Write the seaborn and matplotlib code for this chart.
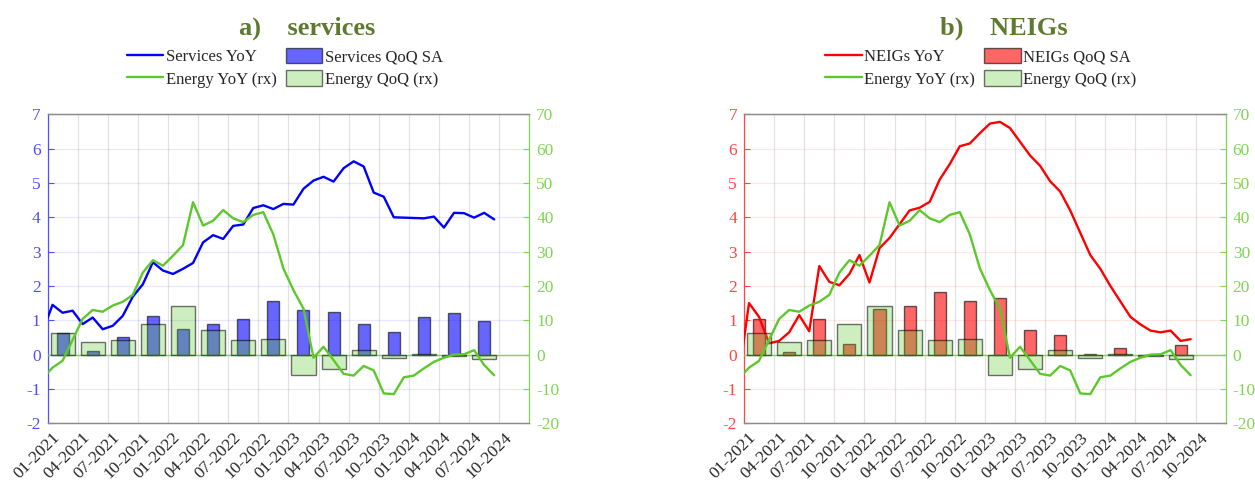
import numpy as np
import pandas as pd
import matplotlib
matplotlib.use("Agg")
import matplotlib.pyplot as plt
import seaborn as sns
from matplotlib.lines import Line2D
from matplotlib.patches import Patch
from matplotlib.transforms import ScaledTranslation

# ---------------- data ----------------
months = pd.period_range("2020-12", "2024-09", freq="M").strftime("%Y-%m").tolist()

services_yoy = [0.67,
                1.45, 1.22, 1.28, 0.89, 1.08, 0.74, 0.84, 1.13, 1.69, 2.05, 2.69, 2.45,
                2.35, 2.50, 2.67, 3.27, 3.48, 3.37, 3.75, 3.79, 4.27, 4.35, 4.24, 4.39,
                4.37, 4.83, 5.07, 5.18, 5.04, 5.43, 5.63, 5.48, 4.72, 4.60, 4.00, 3.99,
                3.98, 3.97, 4.02, 3.70, 4.13, 4.12, 3.99, 4.13, 3.94]

neigs_yoy = [-0.60,
             1.50, 1.10, 0.33, 0.40, 0.65, 1.15, 0.68, 2.58, 2.12, 2.02, 2.35, 2.90,
             2.10, 3.10, 3.40, 3.80, 4.20, 4.28, 4.45, 5.10, 5.55, 6.07, 6.15, 6.45,
             6.73, 6.78, 6.60, 6.20, 5.80, 5.50, 5.05, 4.75, 4.20, 3.55, 2.90, 2.50,
             2.00, 1.55, 1.10, 0.88, 0.70, 0.65, 0.70, 0.40, 0.45]

energy_yoy = [-6.9,
              -3.8, -1.8, 4.3, 10.4, 13.0, 12.5, 14.3, 15.4, 17.4, 23.9, 27.5, 25.9,
              28.8, 31.9, 44.4, 37.6, 39.0, 42.1, 39.7, 38.6, 40.7, 41.5, 35.0, 25.1,
              18.8, 13.4, -0.9, 2.3, -1.6, -5.6, -6.1, -3.3, -4.6, -11.3, -11.5, -6.6,
              -6.1, -4.0, -2.1, -0.9, 0.0, 0.1, 1.3, -3.0, -6.0]

quarters = ["2021Q1", "2021Q2", "2021Q3", "2021Q4",
            "2022Q1", "2022Q2", "2022Q3", "2022Q4",
            "2023Q1", "2023Q2", "2023Q3", "2023Q4",
            "2024Q1", "2024Q2", "2024Q3"]

services_qoq = [0.62, 0.11, 0.50, 1.13, 0.76, 0.89, 1.03, 1.55, 1.29, 1.25, 0.90, 0.66, 1.10, 1.21, 0.97]
neigs_qoq = [1.05, 0.07, 1.03, 0.31, 1.32, 1.41, 1.83, 1.55, 1.64, 0.72, 0.56, 0.01, 0.19, -0.02, 0.28]
energy_qoq = [6.4, 3.6, 4.2, 9.0, 14.3, 7.1, 4.2, 4.5, -6.0, -4.3, 1.3, -1.0, 0.2, -0.5, -1.4]

xtick_labels = ["01-2021", "04-2021", "07-2021", "10-2021",
                "01-2022", "04-2022", "07-2022", "10-2022",
                "01-2023", "04-2023", "07-2023", "10-2023",
                "01-2024", "04-2024", "07-2024", "10-2024"]
left_ticks = [-2, -1, 0, 1, 2, 3, 4, 5, 6, 7]
right_ticks = [-20, -10, 0, 10, 20, 30, 40, 50, 60, 70]

# ------------- positions (months since Jan 2021) -------------
pm = pd.PeriodIndex(months, freq="M")
xm = np.asarray((pm.year - 2021) * 12 + (pm.month - 1), dtype=float) + 0.5
pq = pd.PeriodIndex(quarters, freq="Q")
xq = np.asarray((pq.year - 2021) * 12 + (pq.quarter - 1) * 3, dtype=float) + 1.5
xt = np.arange(len(xtick_labels)) * 3.0

df_m = pd.DataFrame({"x": xm, "services": services_yoy, "neigs": neigs_yoy, "energy": energy_yoy})
df_q = pd.DataFrame({"x": xq, "services": services_qoq, "neigs": neigs_qoq, "energy": energy_qoq})

# ---------------- style ----------------
sns.set_style("white")
plt.rcParams["font.family"] = ["Liberation Serif", "DejaVu Serif"]
plt.rcParams["axes.unicode_minus"] = False

GREEN = "#5CC82A"
GREEN_AX = "#7ED653"
TXT = "#262626"
FRAME = "#8C8C8C"

W, H = 1255, 484
fig = plt.figure(figsize=(W / 100, H / 100), dpi=100)


def panel(x0px, key, line_col, bar_rgb, axis_col, grid_rgb, title, legend_labels, title_cx, leg_x):
    ax_w = 481.8
    rect = [x0px / W, (H - 423.3) / H, ax_w / W, 309.0 / H]
    ax = fig.add_axes(rect)
    ax2 = ax.twinx()

    # left axis: QoQ bars + YoY line
    sns.barplot(data=df_q, x="x", y=key, native_scale=True, width=0.4, color=bar_rgb,
                saturation=1, errorbar=None, ax=ax, zorder=2)
    for p in ax.patches:
        p.set_facecolor(bar_rgb + (0.6,))
        p.set_edgecolor((0, 0, 0, 0.6))
        p.set_linewidth(1.0)
    sns.lineplot(data=df_m, x="x", y=key, color=line_col, linewidth=1.7, ax=ax,
                 legend=False, zorder=3)

    # right axis: energy
    sns.barplot(data=df_q, x="x", y="energy", native_scale=True, width=0.8, color=GREEN,
                saturation=1, errorbar=None, ax=ax2, zorder=2)
    for p in ax2.patches:
        p.set_facecolor(matplotlib.colors.to_rgb(GREEN) + (0.3,))
        p.set_edgecolor((0, 0, 0, 0.55))
        p.set_linewidth(1.0)
    ax2.axhline(0, color=GREEN_AX, linewidth=1.0, zorder=1)
    sns.lineplot(data=df_m, x="x", y="energy", color=GREEN, linewidth=1.7, ax=ax2,
                 legend=False, zorder=3)

    ax.set_xlim(0, 48)
    ax.set_ylim(-2, 7)
    ax2.set_ylim(-20, 70)
    ax.set_xlabel("")
    ax.set_ylabel("")
    ax2.set_ylabel("")
    ax2.set_xlabel("")

    ax.set_yticks(left_ticks)
    ax.set_yticklabels([str(v) for v in left_ticks])
    ax2.set_yticks(right_ticks)
    ax2.set_yticklabels([str(v) for v in right_ticks])
    ax.set_xticks(xt)
    ax.set_xticklabels(xtick_labels, rotation=45, ha="right", va="center",
                       rotation_mode="anchor")

    ax.set_axisbelow(True)
    ax.yaxis.grid(True, color=grid_rgb, alpha=0.13, linewidth=0.9)
    ax.xaxis.grid(True, color=(0.15, 0.15, 0.15), alpha=0.13, linewidth=0.9)
    ax2.grid(False)

    ax.tick_params(axis="y", colors=axis_col, direction="in", length=4, width=0.8,
                   labelsize=12.5, pad=5)
    ax.tick_params(axis="x", color=FRAME, labelcolor=TXT, direction="in", length=5,
                   width=0.8, labelsize=12.5, pad=4)
    ax2.tick_params(axis="y", colors=GREEN_AX, direction="in", length=4, width=0.8,
                    labelsize=12.5, pad=5)

    for a in (ax, ax2):
        for s in a.spines.values():
            s.set_linewidth(0.9)
        a.spines["top"].set_color(FRAME)
        a.spines["bottom"].set_color(FRAME)
    ax.spines["left"].set_color(axis_col)
    ax.spines["right"].set_visible(False)
    ax2.spines["left"].set_visible(False)
    ax2.spines["right"].set_color(GREEN_AX)

    off = ScaledTranslation(10 / 100, -6 / 100, fig.dpi_scale_trans)
    for lbl in ax.get_xticklabels():
        lbl.set_transform(lbl.get_transform() + off)

    fig.text(title_cx / W, 1 - 35 / H, title, ha="center", va="baseline",
             fontsize=19, fontweight="bold", color="#5E7A2E")

    handles = [Line2D([], [], color=line_col, linewidth=1.7),
               Line2D([], [], color=GREEN, linewidth=1.7),
               Patch(facecolor=bar_rgb + (0.6,), edgecolor=(0, 0, 0, 0.6), linewidth=1.0),
               Patch(facecolor=matplotlib.colors.to_rgb(GREEN) + (0.3,),
                     edgecolor=(0, 0, 0, 0.55), linewidth=1.0)]
    fig.legend(handles, legend_labels, ncol=2, loc="upper left",
               bbox_to_anchor=(leg_x / W, 1 - 48 / H), frameon=False, fontsize=12,
               handlelength=2.2, handleheight=1.05, handletextpad=0.15,
               columnspacing=0.55, labelspacing=0.28, borderpad=0, borderaxespad=0,
               labelcolor=TXT)
    return ax, ax2


panel(47.5, "services", "#0000FF", (0.0, 0.0, 1.0), "#4F4FFF", (0.3, 0.3, 1.0),
      "a)    services",
      ["Services YoY", "Energy YoY (rx)", "Services QoQ SA", "Energy QoQ (rx)"],
      307, 126.5)
panel(744.0, "neigs", "#FF0000", (1.0, 0.0, 0.0), "#FF4545", (1.0, 0.3, 0.3),
      "b)    NEIGs",
      ["NEIGs YoY", "Energy YoY (rx)", "NEIGs QoQ SA", "Energy QoQ (rx)"],
      1004, 825)

fig.savefig("out.png", dpi=100)
